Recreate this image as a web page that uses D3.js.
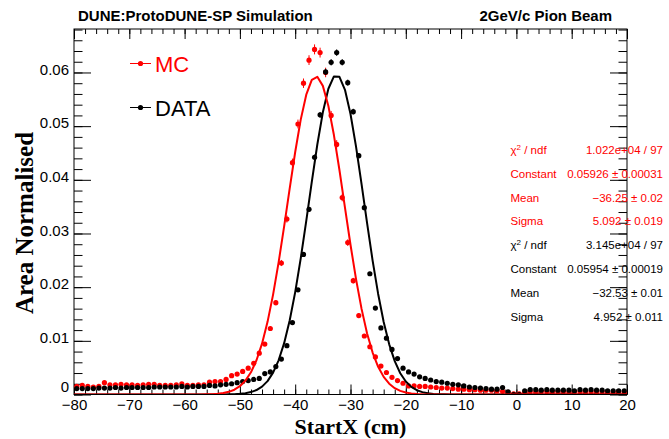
<!DOCTYPE html>
<html>
<head>
<meta charset="utf-8">
<script src="https://cdn.jsdelivr.net/npm/d3@7"></script>
<style>
  html, body { margin: 0; padding: 0; background: #fff; }
  svg { display: block; }
</style>
</head>
<body>
<svg id="chart" width="669" height="439"></svg>
<script>
// StartX distributions, area normalised, 1 cm bins from -80 to 20 cm
const binLow = -80, binWidth = 1, nBins = 100;

const mcValues = [
  0.0015, 0.0017, 0.0015, 0.0014, 0.0015, 0.0022, 0.0018, 0.0018, 0.0019, 0.0018,
  0.0018, 0.0017, 0.0018, 0.0019, 0.0019, 0.0017, 0.0017, 0.0017, 0.0018, 0.0020,
  0.0017, 0.0017, 0.0018, 0.0018, 0.0023, 0.0024, 0.0024, 0.0028, 0.0035, 0.0038,
  0.0043, 0.0049, 0.0058, 0.0077, 0.0094, 0.0123, 0.0171, 0.0245, 0.0327, 0.0432,
  0.0504, 0.0580, 0.0623, 0.0643, 0.0637, 0.0600, 0.0520, 0.0466, 0.0367, 0.0283,
  0.0212, 0.0147, 0.0109, 0.0089, 0.0070, 0.0053, 0.0041, 0.0032, 0.0026, 0.0021,
  0.0016, 0.0016, 0.0015, 0.0015, 0.0014, 0.0013, 0.0012, 0.0012, 0.0011, 0.0010,
  0.0010, 0.0009, 0.0009, 0.0008, 0.0008, 0.0008, 0.0007, 0.0006, 0.0004, 0.0001,
  0.0001, 0.0004, 0.0005, 0.0004, 0.0005, 0.0005, 0.0004, 0.0005, 0.0005, 0.0004,
  0.0005, 0.0005, 0.0004, 0.0005, 0.0004, 0.0005, 0.0004, 0.0004, 0.0005, 0.0004
];
const mcErrors = [
  0.00015, 0.00015, 0.00015, 0.00015, 0.00015, 0.00018, 0.00016, 0.00016, 0.00016, 0.00016,
  0.00016, 0.00015, 0.00016, 0.00016, 0.00016, 0.00015, 0.00015, 0.00015, 0.00016, 0.00017,
  0.00015, 0.00015, 0.00016, 0.00016, 0.00018, 0.00018, 0.00018, 0.00020, 0.00022, 0.00023,
  0.00024, 0.00026, 0.00028, 0.00032, 0.00036, 0.00041, 0.00048, 0.00057, 0.00066, 0.00076,
  0.00082, 0.00088, 0.00091, 0.00093, 0.00092, 0.00089, 0.00083, 0.00079, 0.00070, 0.00061,
  0.00053, 0.00045, 0.00038, 0.00035, 0.00031, 0.00027, 0.00023, 0.00021, 0.00019, 0.00017,
  0.00015, 0.00015, 0.00014, 0.00014, 0.00014, 0.00013, 0.00013, 0.00013, 0.00012, 0.00012,
  0.00012, 0.00011, 0.00011, 0.00010, 0.00010, 0.00010, 0.00010, 0.00009, 0.00007, 0.00004,
  0.00004, 0.00007, 0.00008, 0.00007, 0.00008, 0.00008, 0.00007, 0.00008, 0.00008, 0.00007,
  0.00008, 0.00008, 0.00007, 0.00008, 0.00007, 0.00008, 0.00007, 0.00007, 0.00008, 0.00007
];
const dataValues = [
  0.0011, 0.0011, 0.0011, 0.0011, 0.0012, 0.0012, 0.0012, 0.0013, 0.0012, 0.0013,
  0.0013, 0.0013, 0.0013, 0.0013, 0.0014, 0.0014, 0.0014, 0.0014, 0.0014, 0.0015,
  0.0014, 0.0015, 0.0015, 0.0015, 0.0017, 0.0016, 0.0018, 0.0019, 0.0020, 0.0022,
  0.0024, 0.0026, 0.0028, 0.0030, 0.0039, 0.0042, 0.0052, 0.0066, 0.0091, 0.0134,
  0.0195, 0.0261, 0.0345, 0.0442, 0.0521, 0.0601, 0.0619, 0.0637, 0.0619, 0.0581,
  0.0527, 0.0445, 0.0348, 0.0225, 0.0161, 0.0124, 0.0105, 0.0084, 0.0067, 0.0049,
  0.0042, 0.0038, 0.0033, 0.0030, 0.0027, 0.0024, 0.0023, 0.0021, 0.0019, 0.0018,
  0.0016, 0.0014, 0.0013, 0.0012, 0.0011, 0.0010, 0.0010, 0.0013, 0.0005, 0.0000,
  0.0000, 0.0007, 0.0009, 0.0009, 0.0008, 0.0009, 0.0008, 0.0008, 0.0008, 0.0008,
  0.0007, 0.0009, 0.0008, 0.0009, 0.0008, 0.0008, 0.0007, 0.0007, 0.0007, 0.0007
];
const dataErrors = [
  0.00008, 0.00008, 0.00008, 0.00008, 0.00008, 0.00008, 0.00008, 0.00009, 0.00008, 0.00009,
  0.00009, 0.00009, 0.00009, 0.00009, 0.00009, 0.00009, 0.00009, 0.00009, 0.00009, 0.00010,
  0.00009, 0.00010, 0.00010, 0.00010, 0.00010, 0.00010, 0.00010, 0.00011, 0.00011, 0.00012,
  0.00012, 0.00013, 0.00013, 0.00014, 0.00015, 0.00016, 0.00017, 0.00020, 0.00023, 0.00028,
  0.00033, 0.00038, 0.00044, 0.00050, 0.00054, 0.00058, 0.00059, 0.00060, 0.00059, 0.00057,
  0.00054, 0.00050, 0.00044, 0.00035, 0.00030, 0.00026, 0.00024, 0.00022, 0.00019, 0.00017,
  0.00015, 0.00015, 0.00014, 0.00013, 0.00013, 0.00012, 0.00012, 0.00011, 0.00010, 0.00010,
  0.00010, 0.00009, 0.00009, 0.00008, 0.00008, 0.00008, 0.00008, 0.00009, 0.00005, 0.00000,
  0.00000, 0.00006, 0.00007, 0.00007, 0.00007, 0.00007, 0.00007, 0.00007, 0.00007, 0.00007,
  0.00006, 0.00007, 0.00007, 0.00007, 0.00007, 0.00007, 0.00006, 0.00006, 0.00006, 0.00006
];

// Gaussian fit results (constant, mean, sigma)
const mcFit   = { constant: 0.05926, mean: -36.25, sigma: 5.092 };
const dataFit = { constant: 0.05954, mean: -32.53, sigma: 4.952 };

const xTickValues = [-80, -70, -60, -50, -40, -30, -20, -10, 0, 10, 20];
const yTickValues = [0, 0.01, 0.02, 0.03, 0.04, 0.05, 0.06];

const mcStats = [
  ["chi", "1.022e+04 / 97"],
  ["Constant", "0.05926 \u00b1 0.00031"],
  ["Mean", "\u221236.25 \u00b1 0.02"],
  ["Sigma", "5.092 \u00b1 0.019"]
];
const dataStats = [
  ["chi", "3.145e+04 / 97"],
  ["Constant", "0.05954 \u00b1 0.00019"],
  ["Mean", "\u221232.53 \u00b1 0.01"],
  ["Sigma", "4.952 \u00b1 0.011"]
];

const RED = "#ff0000", BLACK = "#000000";
const SANS = "'Liberation Sans', Arial, Helvetica, sans-serif";
const SERIF = "'Liberation Serif', 'Times New Roman', serif";

const svg = d3.select("#chart");
const frame = { left: 74, right: 627, top: 29, bottom: 394.5 };

const x = d3.scaleLinear().domain([-80, 20]).range([frame.left, frame.right]);
const y = d3.scaleLinear().domain([0, 0.0681]).range([frame.bottom, frame.top]);

const binCenters = d3.range(nBins).map(i => binLow + (i + 0.5) * binWidth);

svg.append("defs").append("clipPath").attr("id", "plotClip")
  .append("rect")
  .attr("x", frame.left).attr("y", frame.top)
  .attr("width", frame.right - frame.left)
  .attr("height", frame.bottom - frame.top - 0.5);

// ---- axes: major + minor ticks on all four sides, pointing inward ----
function styleAxis(g) {
  g.select(".domain").remove();
  g.selectAll(".tick line").attr("stroke", BLACK).attr("stroke-width", 1);
  g.selectAll(".tick text").attr("fill", BLACK).style("font-family", SANS).style("font-size", "15px");
}
const xMinor = d3.range(-80, 20.001, 2);
const yMinor = d3.range(0, 0.0681, 0.002);

svg.append("g").attr("transform", `translate(0,${frame.bottom})`)
  .call(d3.axisBottom(x).tickValues(xMinor).tickSize(-5).tickFormat(""))
  .call(styleAxis);
svg.append("g").attr("transform", `translate(0,${frame.bottom})`)
  .call(d3.axisBottom(x).tickValues(xTickValues).tickSize(-10)
    .tickFormat(d3.format("d")))
  .call(styleAxis)
  .call(g => g.selectAll(".tick text").attr("dy", "0.71em").attr("y", 5));
svg.append("g").attr("transform", `translate(0,${frame.top})`)
  .call(d3.axisTop(x).tickValues(xMinor).tickSize(-5).tickFormat(""))
  .call(styleAxis);
svg.append("g").attr("transform", `translate(0,${frame.top})`)
  .call(d3.axisTop(x).tickValues(xTickValues).tickSize(-10).tickFormat(""))
  .call(styleAxis);

svg.append("g").attr("transform", `translate(${frame.left},0)`)
  .call(d3.axisLeft(y).tickValues(yMinor).tickSize(-8.5).tickFormat(""))
  .call(styleAxis);
svg.append("g").attr("transform", `translate(${frame.left},0)`)
  .call(d3.axisLeft(y).tickValues(yTickValues).tickSize(-17)
    .tickFormat(d => d === 0 ? "0" : d3.format(".2f")(d)))
  .call(styleAxis)
  .call(g => g.selectAll(".tick text").attr("x", -5).attr("dy", "0.12em"))
  // the zero label sits a little above its tick, clear of the x labels
  .call(g => g.selectAll(".tick text").filter(d => d === 0).attr("dy", "-0.2em"));
svg.append("g").attr("transform", `translate(${frame.right},0)`)
  .call(d3.axisRight(y).tickValues(yMinor).tickSize(-8.5).tickFormat(""))
  .call(styleAxis);
svg.append("g").attr("transform", `translate(${frame.right},0)`)
  .call(d3.axisRight(y).tickValues(yTickValues).tickSize(-17).tickFormat(""))
  .call(styleAxis);

// frame
svg.append("rect")
  .attr("x", frame.left).attr("y", frame.top)
  .attr("width", frame.right - frame.left).attr("height", frame.bottom - frame.top)
  .attr("fill", "none").attr("stroke", BLACK).attr("stroke-width", 1);

// ---- histogram points with error bars ----
function drawPoints(values, errors, color) {
  const g = svg.append("g").attr("clip-path", "url(#plotClip)");
  const pts = binCenters.map((c, i) => ({ c, v: values[i], e: errors[i] }));
  g.selectAll("line.err").data(pts).join("line")
    .attr("x1", d => x(d.c)).attr("x2", d => x(d.c))
    .attr("y1", d => y(d.v - d.e)).attr("y2", d => y(d.v + d.e))
    .attr("stroke", color).attr("stroke-width", 1);
  g.selectAll("circle").data(pts).join("circle")
    .attr("cx", d => x(d.c)).attr("cy", d => y(d.v))
    .attr("r", 2.6).attr("fill", color);
}

// ---- fitted Gaussians, drawn as a polyline over the axis range ----
function drawFit(fit, color) {
  const xs = d3.range(-80, 20.001, 1);
  const line = d3.line()
    .x(d => x(d))
    .y(d => y(fit.constant * Math.exp(-0.5 * Math.pow((d - fit.mean) / fit.sigma, 2))));
  svg.append("path")
    .attr("clip-path", "url(#plotClip)")
    .attr("d", line(xs))
    .attr("fill", "none").attr("stroke", color).attr("stroke-width", 2)
    .attr("stroke-linejoin", "round");
}

drawPoints(mcValues, mcErrors, RED);
drawPoints(dataValues, dataErrors, BLACK);
drawFit(dataFit, BLACK);
drawFit(mcFit, RED);

// ---- axis titles ----
svg.append("text")
  .attr("x", (frame.left + frame.right) / 2).attr("y", 434)
  .attr("text-anchor", "middle")
  .style("font-family", SERIF).style("font-weight", "bold").style("font-size", "22px")
  .text("StartX (cm)");
svg.append("text")
  .attr("transform", "translate(33,223) rotate(-90)")
  .attr("text-anchor", "middle")
  .style("font-family", SERIF).style("font-weight", "bold").style("font-size", "25px")
  .text("Area Normalised");

// ---- header labels ----
svg.append("text").attr("x", 78).attr("y", 21)
  .style("font-family", SANS).style("font-weight", "bold").style("font-size", "15px")
  .text("DUNE:ProtoDUNE-SP Simulation");
svg.append("text").attr("x", 612).attr("y", 21).attr("text-anchor", "end")
  .style("font-family", SANS).style("font-weight", "bold").style("font-size", "15px")
  .text("2GeV/c Pion Beam");

// ---- legend ----
const legendItems = [
  { label: "MC", color: RED, y: 63.5 },
  { label: "DATA", color: BLACK, y: 107.5 }
];
const leg = svg.append("g");
legendItems.forEach(item => {
  leg.append("line").attr("x1", 130).attr("x2", 151).attr("y1", item.y).attr("y2", item.y)
    .attr("stroke", item.color).attr("stroke-width", 1);
  leg.append("circle").attr("cx", 140.5).attr("cy", item.y).attr("r", 2.6).attr("fill", item.color);
  leg.append("text").attr("x", 155).attr("y", item.y + 8.5)
    .attr("fill", item.color)
    .style("font-family", SANS).style("font-size", "22px")
    .text(item.label);
});

// ---- fit statistics ----
const stats = svg.append("g").style("font-family", SANS).style("font-size", "11.5px");
const statRows = mcStats.map(r => ({ r, color: RED })).concat(dataStats.map(r => ({ r, color: BLACK })));
statRows.forEach((row, i) => {
  const cy = 150 + i * 23.8;
  const name = stats.append("text").attr("x", 510.5).attr("y", cy + 4).attr("fill", row.color);
  if (row.r[0] === "chi") {
    name.append("tspan").text("\u03c7");
    name.append("tspan").attr("dy", -4.5).style("font-size", "8px").text("2");
    name.append("tspan").attr("dy", 4.5).text(" / ndf");
  } else {
    name.text(row.r[0]);
  }
  stats.append("text").attr("x", 663).attr("y", cy + 4).attr("text-anchor", "end")
    .attr("fill", row.color).text(row.r[1]);
});
</script>
</body>
</html>
